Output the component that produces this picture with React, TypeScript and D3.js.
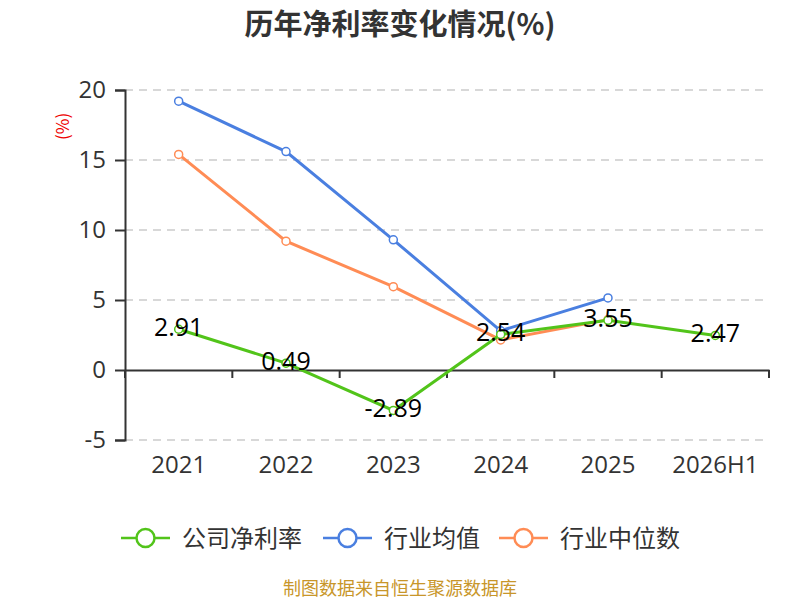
import { useEffect, useRef } from 'react';
import * as d3 from 'd3';

// 数据
const categories = ['2021', '2022', '2023', '2024', '2025', '2026H1'];
const companyRate = [2.91, 0.49, -2.89, 2.54, 3.55, 2.47];
const industryAvg: (number | null)[] = [19.2, 15.6, 9.3, 2.8, 5.15, null];
const industryMedian: (number | null)[] = [15.4, 9.2, 5.95, 2.15, 3.6, null];
const yTicks = [-5, 0, 5, 10, 15, 20];

const seriesList = [
  { name: '公司净利率', color: '#52c41a', values: companyRate as (number | null)[] },
  { name: '行业均值', color: '#4a7fe0', values: industryAvg },
  { name: '行业中位数', color: '#ff8c55', values: industryMedian },
];

const W = 800;
const H = 600;
const FONT = '"Noto Sans CJK SC", "Noto Sans", sans-serif';
const NUM_FONT = '"Open Sans", "Noto Sans CJK SC", sans-serif';

export default function App() {
  const svgRef = useRef<SVGSVGElement>(null);

  useEffect(() => {
    const svg = d3.select(svgRef.current);
    svg.selectAll('*').remove();

    const left = 125;
    const right = 769;
    const top = 90;
    const bottom = 440;

    const x = d3.scaleBand<string>().domain(categories).range([left, right]);
    const y = d3.scaleLinear().domain([-5, 20]).range([bottom, top]);
    const cx = (c: string) => (x(c) as number) + x.bandwidth() / 2;

    // 标题
    svg.append('text')
      .attr('x', W / 2)
      .attr('y', 35)
      .attr('text-anchor', 'middle')
      .style('font-size', '29px')
      .style('font-weight', 'bold')
      .style('fill', '#333')
      .text('历年净利率变化情况(%)');

    // 网格线
    svg.append('g')
      .selectAll('line')
      .data(yTicks.filter(t => t !== 0))
      .join('line')
      .attr('x1', left)
      .attr('x2', right)
      .attr('y1', d => y(d))
      .attr('y2', d => y(d))
      .attr('stroke', '#ccc')
      .attr('stroke-width', 1.5)
      .attr('stroke-dasharray', '8,6');

    // Y轴
    const yAxis = svg.append('g')
      .attr('transform', `translate(${left},0)`)
      .call(d3.axisLeft(y).tickValues(yTicks).tickSize(10).tickPadding(9).tickFormat(d => `${d}`));
    yAxis.select('.domain').attr('stroke', '#333').attr('stroke-width', 2);
    yAxis.selectAll('.tick line').attr('stroke', '#333').attr('stroke-width', 2);
    yAxis.selectAll('text')
      .style('font-size', '24px')
      .style('fill', '#333')
      .style('font-family', NUM_FONT);

    // X轴 (位于 0)
    const xAxis = svg.append('g')
      .attr('transform', `translate(0,${y(0)})`)
      .call(d3.axisBottom(x).tickSize(0).tickFormat(() => ''));
    xAxis.select('.domain').attr('stroke', '#333').attr('stroke-width', 2);
    xAxis.selectAll('.tick').remove();

    const bounds = [...categories.map(c => x(c) as number), right];
    svg.append('g')
      .selectAll('line')
      .data(bounds)
      .join('line')
      .attr('x1', d => d)
      .attr('x2', d => d)
      .attr('y1', y(0))
      .attr('y2', y(0) + 8)
      .attr('stroke', '#333')
      .attr('stroke-width', 2);

    svg.append('g')
      .selectAll('text')
      .data(categories)
      .join('text')
      .attr('x', d => cx(d))
      .attr('y', 473)
      .attr('text-anchor', 'middle')
      .style('font-size', '24px')
      .style('font-family', NUM_FONT)
      .style('fill', '#333')
      .text(d => d);

    // 单位
    svg.append('text')
      .attr('transform', `translate(69,${y(17.4)}) rotate(-90)`)
      .attr('text-anchor', 'middle')
      .style('font-size', '17px')
      .style('fill', '#e00')
      .text('(%)');

    // 折线（先画行业系列）
    const order = [1, 2, 0];
    order.forEach(i => {
      const s = seriesList[i];
      const pts = categories
        .map((c, j) => ({ c, v: s.values[j] }))
        .filter(p => p.v !== null) as { c: string; v: number }[];
      const line = d3.line<{ c: string; v: number }>()
        .x(p => cx(p.c))
        .y(p => y(p.v));
      svg.append('path')
        .datum(pts)
        .attr('d', line)
        .attr('fill', 'none')
        .attr('stroke', s.color)
        .attr('stroke-width', 3);
      svg.append('g')
        .selectAll('circle')
        .data(pts)
        .join('circle')
        .attr('cx', p => cx(p.c))
        .attr('cy', p => y(p.v))
        .attr('r', 4)
        .attr('fill', '#fff')
        .attr('stroke', s.color)
        .attr('stroke-width', 1.5);
    });

    // 数据标签
    svg.append('g')
      .selectAll('text')
      .data(categories.map((c, j) => ({ c, v: companyRate[j] })))
      .join('text')
      .attr('x', p => cx(p.c))
      .attr('y', p => y(p.v) + 7)
      .attr('text-anchor', 'middle')
      .style('font-size', '25px')
      .style('font-family', NUM_FONT)
      .style('fill', '#000')
      .text(p => p.v.toFixed(2));

    // 图例
    const legendX = [121, 323, 499];
    seriesList.forEach((s, i) => {
      const g = svg.append('g').attr('transform', `translate(${legendX[i]},538)`);
      g.append('line')
        .attr('x1', 0).attr('x2', 49)
        .attr('y1', 0).attr('y2', 0)
        .attr('stroke', s.color)
        .attr('stroke-width', 2.5);
      g.append('circle')
        .attr('cx', 24.5).attr('cy', 0).attr('r', 9)
        .attr('fill', '#fff')
        .attr('stroke', s.color)
        .attr('stroke-width', 2.5);
      g.append('text')
        .attr('x', 61)
        .attr('y', 9)
        .style('font-size', '24px')
        .style('fill', '#333')
        .text(s.name);
    });

    // 来源
    svg.append('text')
      .attr('x', W / 2)
      .attr('y', 595)
      .attr('text-anchor', 'middle')
      .style('font-size', '18px')
      .style('fill', '#c8962a')
      .text('制图数据来自恒生聚源数据库');
  }, []);

  return (
    <svg
      ref={svgRef}
      width={W}
      height={H}
      style={{ position: 'absolute', left: 0, top: 0, fontFamily: FONT, background: '#fff' }}
    />
  );
}
